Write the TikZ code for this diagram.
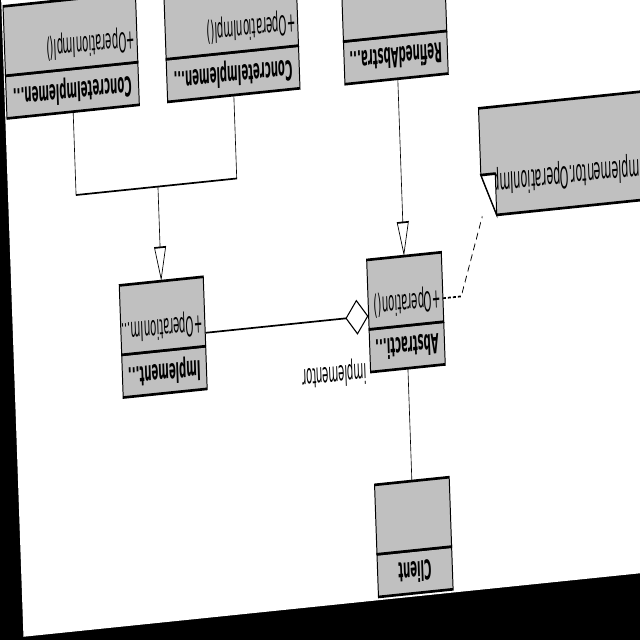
\documentclass[tikz,border=0pt]{standalone}
\usepackage{fontspec}
\setmainfont{DejaVu Sans}
\usepackage{tikz}
\usetikzlibrary{arrows.meta,positioning,fit}
\definecolor{classgray}{HTML}{C0C0C0}
\begin{document}
\begin{tikzpicture}[x=0.025cm,y=0.025cm,>=Latex]
\tikzstyle{classname}=[draw,fill=classgray,line width=0.7pt,outer sep=0pt,inner sep=0pt,minimum height=0.395cm,font=\bfseries\fontsize{7.2}{8}\selectfont]
\tikzstyle{classops}=[draw,fill=classgray,line width=0.7pt,outer sep=0pt,inner sep=0pt,minimum height=0.6425cm]
\tikzstyle{optext}=[inner xsep=0.05cm,inner ysep=0.0875cm,font=\fontsize{7.2}{8}\selectfont]
\tikzstyle{notebox}=[inner sep=0pt,outer sep=0pt,minimum width=5.3cm,minimum height=1cm]
\tikzstyle{notetext}=[inner sep=0pt,font=\fontsize{7.9}{9}\selectfont]
\tikzstyle{rolelabel}=[inner sep=0pt,font=\fontsize{7.2}{8}\selectfont]
\tikzstyle{link}=[line width=0.45pt]
\tikzstyle{gen}=[link,-{Triangle[open,fill=white,length=0.32cm,width=0.3cm]}]
\tikzstyle{aggr}=[link,-{Diamond[open,fill=white,length=0.575cm,width=0.325cm]}]
\tikzstyle{notelink}=[link,dash pattern=on 0.075cm off 0.05cm]
\newcommand{\umlclass}[5]{%
\node[classname,minimum width=#3,anchor=north west] (#1) at (#2) {#4};
\node[classops,minimum width=#3,anchor=north] (#1-ops) at (#1.south) {};
\node[optext,anchor=north west] (#1-op) at (#1-ops.north west) {#5};
\node[fit=(#1)(#1-ops),inner sep=0pt] (#1-box) {};
}
\useasboundingbox (0,0) rectangle (640,640);
\fill[black] (0,0) rectangle (640,640);
\clip (0,0) rectangle (640,640);
\begin{scope}[transform canvas={cm={-0.9948,-0.1024,0.0945,-2.7,(366.7,380)}}]
\fill[white] (-420,-200) rectangle (357,126);
\umlclass{Client}{-75,124.8}{1.875cm}{Client}{}
\umlclass{Abstraction}{-75,41.5}{1.875cm}{Abstracti...}{+Operation()}
\umlclass{Implementor}{164.3,41.5}{2.11cm}{Implement...}{+OperationIm...}
\umlclass{RefinedAbstraction}{-88.2,-65.7}{2.595cm}{RefinedAbstra...}{}
\umlclass{ConcreteImplB}{60.8,-65.9}{3.325cm}{ConcreteImplemen...}{+OperationImpl()}
\umlclass{ConcreteImplA}{222.3,-65.9}{3.325cm}{ConcreteImplemen...}{+OperationImpl()}
\node[notebox,anchor=north east] (note) at (-117.3,-11.7) {};
\filldraw[fill=classgray,line width=0.7pt] (note.south west) -- (note.south east) -- ([yshift=-0.3825cm]note.north east) -- ([xshift=-0.3625cm]note.north east) -- (note.north west) -- cycle;
\begin{scope}
\clip (note.south west) rectangle ([xshift=-0.3625cm]note.north east);
\node[notetext,anchor=base east] (note-text) at ([yshift=-0.38cm]note.north east) {implementor.OperationImpl()};
\end{scope}
\filldraw[fill=white,line width=0.7pt] ([xshift=-0.3625cm]note.north east) -- ([xshift=-0.3625cm,yshift=-0.3825cm]note.north east) -- ([yshift=-0.3825cm]note.north east) -- cycle;
\draw[link] (Client-ops.south) -- (Abstraction.north);
\draw[gen] (RefinedAbstraction.north -| Abstraction-ops.south) -- (Abstraction-ops.south);
\coordinate[below=0.875cm of Implementor-ops.south] (impl-join);
\draw[link] (ConcreteImplA.north) |- (impl-join);
\draw[link] (ConcreteImplB.north) |- (impl-join);
\draw[gen] (impl-join) -- (Implementor-ops.south);
\draw[aggr] (Implementor-box.west) -- (Abstraction-box.east);
\node[rolelabel,anchor=west] (role) at (3.5,40.9) {implementor};
\draw[notelink] (Abstraction-op.west -| Abstraction.west) -- ++(-18.4,0) -- (note.north east);
\end{scope}
\end{tikzpicture}
\end{document}
